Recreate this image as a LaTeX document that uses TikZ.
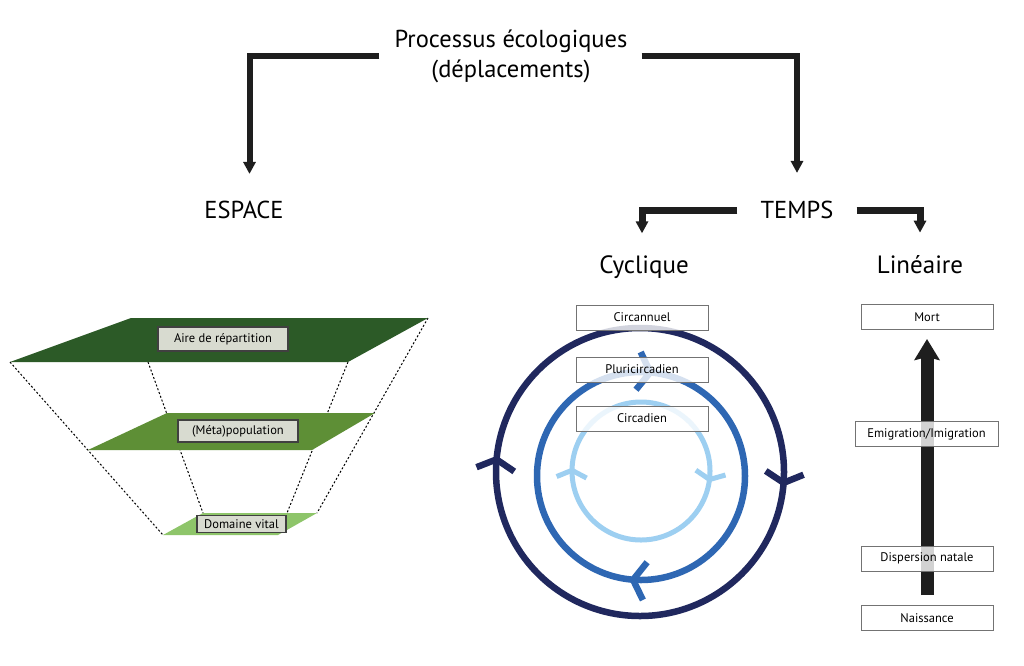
\documentclass[tikz,border=0pt]{standalone}
\usepackage{fontspec}
\setmainfont{PT Sans}
\usetikzlibrary{arrows.meta,decorations.markings}

\definecolor{vertfonce}{HTML}{2C5A27}
\definecolor{vertmoyen}{HTML}{5E8F36}
\definecolor{vertclair}{HTML}{8EC56A}
\definecolor{bleunuit}{HTML}{20285E}
\definecolor{bleumoyen}{HTML}{2E67B3}
\definecolor{bleuclair}{HTML}{9DCFF1}
\definecolor{beige}{HTML}{D8DBD0}
\definecolor{trait}{HTML}{1E1E1E}

\begin{document}
\begin{tikzpicture}[x=1pt,y=-1pt,
    bracket/.style={draw=trait,line width=6pt,-{Triangle[length=12pt,width=12pt]}},
    titre/.style={font=\fontsize{24.5}{30}\selectfont,inner sep=0pt,align=center},
    soustitre/.style={font=\fontsize{25}{30}\selectfont,inner sep=0pt},
    etiquette/.style={draw=black!55,line width=1pt,fill=white,fill opacity=0.8,text opacity=1,
        inner sep=0pt,minimum width=132pt,minimum height=25pt,font=\fontsize{12.5}{14}\selectfont},
    echelle/.style={draw=black!75,line width=1.2pt,fill=beige,inner sep=0pt,font=\fontsize{12.5}{14}\selectfont},
    pointille/.style={line width=1pt,dash pattern=on 2pt off 2pt},
    ]
    \useasboundingbox[fill=white] (0,0) rectangle (1024,665);

    \node[titre] (processus) at (511,56) {Processus écologiques\\(déplacements)};
    \node[titre] (espace) at (244,210) {ESPACE};
    \node[titre] (temps) at (797,210) {TEMPS};
    \node[soustitre] (cyclique) at (644,267) {Cyclique};
    \node[soustitre] (lineaire) at (920,265) {Linéaire};

    \draw[bracket,shorten <=15pt,shorten >=27pt] (processus.west) -| ([xshift=5.5pt]espace.north);
    \draw[bracket,shorten <=14pt,shorten >=28pt] (processus.east) -| (temps.north);
    \draw[bracket,line width=7pt,shorten <=23pt,shorten >=22pt] (temps.west) -| ([xshift=-2pt]cyclique.north);
    \draw[bracket,line width=7pt,shorten <=23pt,shorten >=23pt] (temps.east) -| (lineaire.north);

    % espace : les trois niveaux
    \draw[pointille] (10,362) -- (163,535);
    \draw[pointille] (148,362) -- (203,513);
    \draw[pointille] (348,362) -- (287,513);
    \draw[pointille] (428,318) -- (317,513);
    \fill[vertfonce] (10,362) -- (131,318) -- (428,318) -- (348,362) -- cycle;
    \fill[vertmoyen] (88,450) -- (167,413) -- (375,413) -- (312,450) -- cycle;
    \fill[vertclair] (163,535) -- (203,513) -- (317,513) -- (278,535) -- cycle;
    \node[echelle,minimum width=130pt,minimum height=24pt] (aire) at (223,339) {Aire de répartition};
    \node[echelle,minimum width=120pt,minimum height=22pt] (meta) at (238,431) {(Méta)population};
    \node[echelle,minimum width=89pt,minimum height=17pt] (domaine) at (241.5,524) {Domaine vital};

    % temps cyclique
    \draw[bleunuit,line width=6.5pt,postaction={decorate},decoration={markings,
        mark=at position 0.016 with {\arrow{Straight Barb[length=10pt,width=38pt]}},
        mark=at position 0.518 with {\arrow{Straight Barb[length=10pt,width=38pt]}}}]
        (640,472) circle[radius=144];
    \draw[bleumoyen,line width=6.5pt,postaction={decorate},decoration={markings,
        mark=at position 0.268 with {\arrow{Straight Barb[length=12pt,width=38pt]}},
        mark=at position 0.77 with {\arrow{Straight Barb[length=12pt,width=38pt]}}}]
        (641,476) circle[radius=104];
    \draw[bleuclair,line width=5pt,postaction={decorate},decoration={markings,
        mark=at position 0.026 with {\arrow{Straight Barb[length=7pt,width=30pt]}},
        mark=at position 0.508 with {\arrow{Straight Barb[length=7pt,width=30pt]}}}]
        (641,471) circle[radius=69];
    \node[etiquette] (circannuel) at (642,317.5) {Circannuel};
    \node[etiquette] (pluri) at (642,369.5) {Pluricircadien};
    \node[etiquette] (circadien) at (642,418.5) {Circadien};

    % temps lineaire
    \node[etiquette] (mort) at (927,317) {Mort};
    \node[etiquette] (naissance) at (927,618) {Naissance};
    \draw[trait,line width=13pt,-{Stealth[length=21pt,width=25pt,inset=3pt]},shorten <=10pt,shorten >=9pt]
        (naissance) -- (mort);
    \node[etiquette,minimum width=143pt] (emigration) at (926.5,434) {Emigration/Imigration};
    \node[etiquette] (dispersion) at (927,558.5) {Dispersion natale};
\end{tikzpicture}
\end{document}
